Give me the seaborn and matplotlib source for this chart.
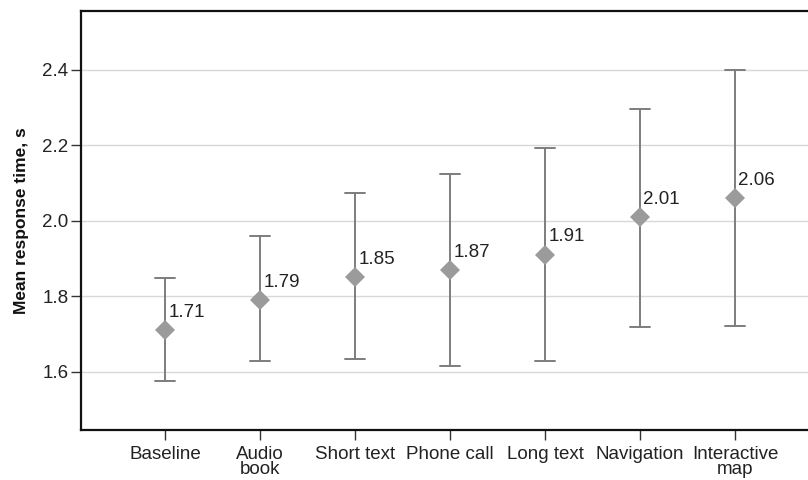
import numpy as np
import pandas as pd
import matplotlib
matplotlib.use("Agg")
import matplotlib.pyplot as plt
import seaborn as sns

categories = ["Baseline", "Audio\nbook", "Short text", "Phone call", "Long text", "Navigation", "Interactive\nmap"]
means = [1.71, 1.79, 1.85, 1.87, 1.91, 2.01, 2.06]
lower = [1.575, 1.627, 1.634, 1.616, 1.629, 1.719, 1.72]
upper = [1.849, 1.96, 2.074, 2.125, 2.193, 2.295, 2.40]
yticks = [1.6, 1.8, 2.0, 2.2, 2.4]

rows = []
for c, lo, m, hi in zip(categories, lower, means, upper):
    for v in (lo, m, hi):
        rows.append({"condition": c, "rt": v})
df = pd.DataFrame(rows)

sns.set_style("white")
plt.rcParams["font.family"] = ["Liberation Sans", "DejaVu Sans"]

fig = plt.figure(figsize=(8.08, 4.8), dpi=100)
ax = fig.add_axes([81 / 808, 50 / 480, 738 / 808, 419 / 480])

sns.pointplot(
    data=df, x="condition", y="rt", order=categories,
    estimator="median", errorbar=lambda v: (v.min(), v.max()),
    markers="D", linestyle="none", color="#9b9b9b",
    capsize=0.22, markersize=10, markeredgewidth=0,
    err_kws={"color": "#7d7d7d", "linewidth": 1.4, "zorder": 2},
    ax=ax, zorder=3,
)

for i, m in enumerate(means):
    ax.annotate(f"{m:.2f}", xy=(i, m), xytext=(2.5, 9.5), textcoords="offset points",
                ha="left", va="baseline", fontsize=13.5, color="#222222")

ax.set_xlim(-0.884, 6.884)
ax.set_ylim(1.445, 2.556)
ax.set_yticks(yticks)
ax.set_yticklabels([f"{t:.1f}" for t in yticks])
ax.yaxis.grid(True, color="#d8d8d8", linewidth=1.0)
ax.xaxis.grid(False)
ax.set_axisbelow(True)

for side in ["left", "bottom", "top", "right"]:
    ax.spines[side].set_visible(True)
    ax.spines[side].set_color("#111111")
    ax.spines[side].set_linewidth(1.6)

ax.tick_params(axis="both", which="major", direction="out", length=7, width=1.0,
               color="#333333", labelsize=13.5, labelcolor="#222222", pad=2,
               left=True, bottom=True)
ax.tick_params(axis="x", pad=4.5)
for lbl in ax.get_xticklabels():
    lbl.set_linespacing(0.85)

ax.set_xlabel("")
ax.set_ylabel("Mean response time, s", fontsize=12.5, fontweight="bold", color="#111111")
ax.yaxis.set_label_coords(-0.071, 0.5)

fig.savefig("out.png", dpi=100)
